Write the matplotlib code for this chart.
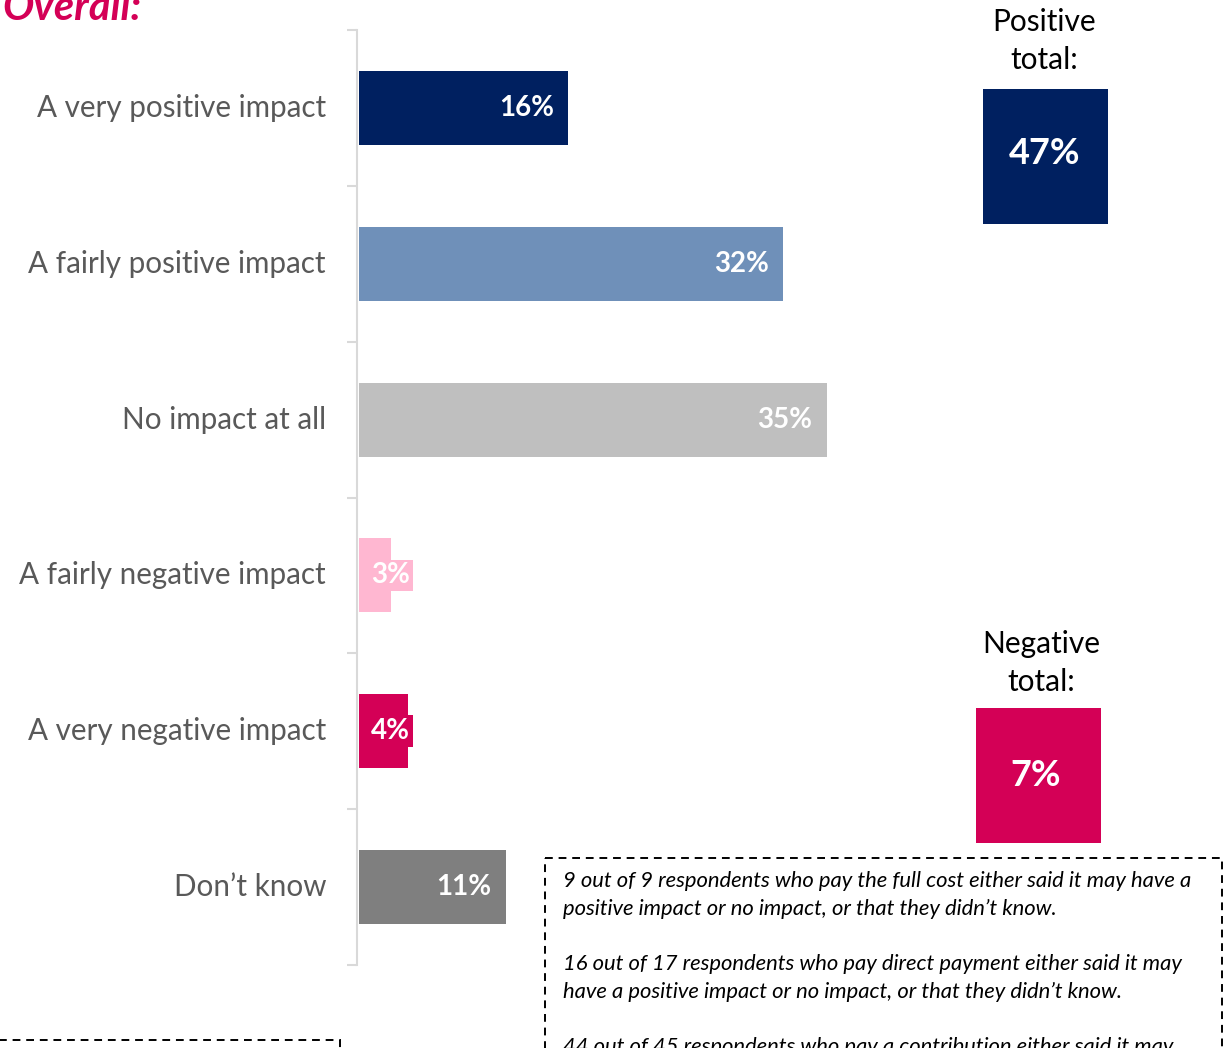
import matplotlib
matplotlib.use("Agg")
import matplotlib.pyplot as plt
from matplotlib.patches import Rectangle

plt.rcParams['font.family'] = ['Lato', 'DejaVu Sans']

categories = ["A very positive impact", "A fairly positive impact", "No impact at all",
              "A fairly negative impact", "A very negative impact", "Don\u2019t know"]
values = [15.7, 31.8, 35.1, 2.4, 3.7, 11.0]
value_labels = ["16%", "32%", "35%", "3%", "4%", "11%"]
colors = ["#002060", "#6f90b9", "#bfbfbf", "#ffb7d1", "#d40056", "#7f7f7f"]
title = "Overall:"
positive_total = "47%"
negative_total = "7%"
note_text = ("9 out of 9 respondents who pay the full cost either said it may have a\n"
             "positive impact or no impact, or that they didn\u2019t know.\n\n"
             "16 out of 17 respondents who pay direct payment either said it may\n"
             "have a positive impact or no impact, or that they didn\u2019t know.\n\n"
             "44 out of 45 respondents who pay a contribution either said it may\n"
             "have a positive impact or no impact, or that they didn\u2019t know.")

W, H = 1229, 1048
fig = plt.figure(figsize=(W / 100, H / 100), dpi=100)

# main axes in pixel geometry
ax_left, ax_right, ax_top, ax_bot = 357, 1229, 30, 965
ax = fig.add_axes([ax_left / W, 1 - ax_bot / H, (ax_right - ax_left) / W, (ax_bot - ax_top) / H])
px_per_unit = 13.35
ax.set_xlim(-2 / px_per_unit, (ax_right - ax_left) / px_per_unit)
n = len(categories)
ax.set_ylim(n - 0.5, -0.5)
ypos = list(range(n))
ax.barh(ypos, values, height=0.475, color=colors, left=0)

for sp in ["top", "right", "bottom"]:
    ax.spines[sp].set_visible(False)
ax.spines["left"].set_color("#d9d9d9")
ax.spines["left"].set_linewidth(1.5)
ax.set_xticks([])
ax.set_yticks([i - 0.5 for i in range(n + 1)])
ax.set_yticklabels([])
ax.tick_params(axis="y", length=7.5, width=1.5, color="#d9d9d9", direction="out")

min_label_right = 51 / px_per_unit
for i, (cat, v, lab, c) in enumerate(zip(categories, values, value_labels, colors)):
    ax.annotate(cat, xy=(0, i), xycoords=("axes fraction", "data"), xytext=(-31, 0),
                textcoords="offset pixels", ha="right", va="center",
                fontsize=21.3, color="#595959")
    x_right = max(v - 14 / px_per_unit, min_label_right)
    ax.annotate(lab, xy=(x_right, i), xytext=(0, 0), textcoords="offset pixels",
                ha="right", va="center", fontsize=20, fontweight="bold", color="white",
                bbox=dict(boxstyle="square,pad=0.1", facecolor=c, edgecolor="none"))

# overlay in pixel coordinates
ov = fig.add_axes([0, 0, 1, 1], zorder=5)
ov.set_xlim(0, W)
ov.set_ylim(H, 0)
ov.axis("off")
ov.patch.set_alpha(0)

ov.text(2, 20, title, fontsize=30, fontweight="bold", fontstyle="italic",
        color="#d40056", ha="left", va="baseline")

ov.text(1044, 41, "Positive\ntotal:", fontsize=21.5, color="#000000", ha="center",
        va="center", linespacing=1.45)
ov.add_patch(Rectangle((983, 89), 125, 135, facecolor="#002060", edgecolor="none"))
ov.text(1045, 153, positive_total, fontsize=26, fontweight="bold", color="white",
        ha="center", va="center")

ov.text(1041, 663, "Negative\ntotal:", fontsize=21.5, color="#000000", ha="center",
        va="center", linespacing=1.45)
ov.add_patch(Rectangle((976, 708), 125, 135, facecolor="#d40056", edgecolor="none"))
ov.text(1036, 776, negative_total, fontsize=26, fontweight="bold", color="white",
        ha="center", va="center")

ov.add_patch(Rectangle((545, 858), 677, 400, facecolor="none", edgecolor="black",
                       linewidth=1.4, linestyle=(0, (4, 3))))
ov.text(563, 871, note_text, fontsize=15.8, fontstyle="italic", color="#000000",
        ha="left", va="top", linespacing=1.48)

ov.add_patch(Rectangle((-5, 1040), 345, 200, facecolor="none", edgecolor="black",
                       linewidth=1.4, linestyle=(0, (4, 3))))

fig.savefig("out.png", dpi=100)
